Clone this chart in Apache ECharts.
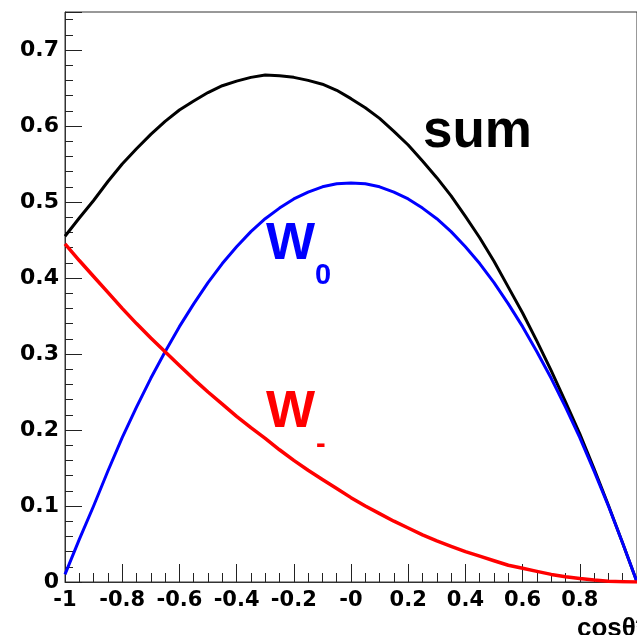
<!DOCTYPE html>
<html>
<head>
<meta charset="utf-8">
<script src="https://cdn.jsdelivr.net/npm/echarts@6/dist/echarts.min.js"></script>
<style>
  html, body { margin: 0; padding: 0; background: #fff; }
  #chart { width: 637px; height: 635px; }
</style>
</head>
<body>
<div id="chart"></div>
<script>
// cos(theta) sample points and the three curves
const cosTheta = [-1, -0.95, -0.9, -0.85, -0.8, -0.75, -0.7, -0.65, -0.6, -0.55, -0.5,
  -0.45, -0.4, -0.35, -0.3, -0.25, -0.2, -0.15, -0.1, -0.05, 0,
  0.05, 0.1, 0.15, 0.2, 0.25, 0.3, 0.35, 0.4, 0.45, 0.5,
  0.55, 0.6, 0.65, 0.7, 0.75, 0.8, 0.85, 0.9, 0.95, 1]
const wMinus = [0.445, 0.423, 0.402, 0.381, 0.360, 0.340, 0.321, 0.303, 0.285, 0.267, 0.250,
  0.234, 0.218, 0.203, 0.189, 0.174, 0.160, 0.147, 0.135, 0.123, 0.111,
  0.100, 0.090, 0.080, 0.071, 0.062, 0.054, 0.047, 0.040, 0.034, 0.028,
  0.022, 0.018, 0.014, 0.010, 0.007, 0.0045, 0.0025, 0.001, 0.0003, 0]
const wZero = [0.010, 0.056, 0.100, 0.146, 0.190, 0.230, 0.268, 0.303, 0.336, 0.366, 0.394,
  0.419, 0.441, 0.461, 0.478, 0.492, 0.504, 0.513, 0.520, 0.524, 0.525,
  0.524, 0.520, 0.513, 0.504, 0.492, 0.478, 0.461, 0.441, 0.419, 0.394,
  0.366, 0.336, 0.303, 0.268, 0.230, 0.190, 0.146, 0.100, 0.051, 0]
const wSum = [0.455, 0.479, 0.502, 0.527, 0.550, 0.570, 0.589, 0.606, 0.621, 0.633, 0.644,
  0.653, 0.659, 0.664, 0.667, 0.666, 0.664, 0.660, 0.655, 0.647, 0.636,
  0.624, 0.610, 0.593, 0.575, 0.554, 0.532, 0.508, 0.481, 0.453, 0.422,
  0.388, 0.354, 0.317, 0.278, 0.237, 0.195, 0.149, 0.101, 0.051, 0]

const xTicks = { min: -1, max: 1, interval: 0.2 }
const yTicks = { min: 0, max: 0.75, interval: 0.1 }

const labelFont = "DejaVu Sans"
const textFont = "Liberation Sans"

const pairs = ys => cosTheta.map((x, i) => [x, ys[i]])

const curve = (name, ys, color, width) => ({
  name: name,
  type: "line",
  data: pairs(ys),
  smooth: false,
  showSymbol: false,
  symbol: "none",
  clip: true,
  lineStyle: { color: color, width: width, join: "round" },
  animation: false
})

const chart = echarts.init(document.getElementById("chart"), null, { renderer: "canvas" })

chart.setOption({
  animation: false,
  backgroundColor: "#fff",
  grid: {
    left: 65,
    top: 12,
    right: -7,
    bottom: 53,
    show: true,
    borderColor: "#333",
    borderWidth: 1,
    backgroundColor: "transparent"
  },
  xAxis: {
    type: "value",
    min: xTicks.min,
    max: xTicks.max,
    interval: xTicks.interval,
    splitLine: { show: false },
    axisLine: { show: true, onZero: false, lineStyle: { color: "#333", width: 1 } },
    axisTick: { show: true, inside: true, length: 18, lineStyle: { color: "#222", width: 1 } },
    minorTick: { show: true, splitNumber: 4, length: 9, lineStyle: { color: "#222", width: 1 } },
    axisLabel: {
      margin: 8,
      showMaxLabel: false,
      color: "#000",
      fontFamily: labelFont,
      fontWeight: "bold",
      fontSize: 21,
      formatter: v => (Math.abs(v) < 1e-9 ? "-0" : String(+v.toFixed(1)))
    }
  },
  yAxis: {
    type: "value",
    min: yTicks.min,
    max: yTicks.max,
    interval: yTicks.interval,
    splitLine: { show: false },
    axisLine: { show: true, onZero: false, lineStyle: { color: "#333", width: 1 } },
    axisTick: { show: true, inside: true, length: 17, lineStyle: { color: "#222", width: 1 } },
    minorTick: { show: true, splitNumber: 5, length: 8, lineStyle: { color: "#222", width: 1 } },
    axisLabel: {
      margin: 6,
      showMaxLabel: false,
      color: "#000",
      fontFamily: labelFont,
      fontWeight: "bold",
      fontSize: 22,
      formatter: v => String(+v.toFixed(1))
    }
  },
  series: [
    curve("sum", wSum, "#000", 3),
    curve("W0", wZero, "#0000ff", 3),
    curve("W-", wMinus, "#ff0000", 3.5)
  ],
  graphic: [
    {
      type: "text",
      left: 423,
      top: 106,
      style: { text: "sum", fill: "#000", font: "bold 53px " + textFont }
    },
    {
      type: "text",
      left: 266,
      top: 219,
      style: { text: "W", fill: "#0000ff", font: "bold 52px " + textFont }
    },
    {
      type: "text",
      left: 315,
      top: 261,
      style: { text: "0", fill: "#0000ff", font: "bold 29px " + textFont }
    },
    {
      type: "text",
      left: 266,
      top: 387,
      style: { text: "W", fill: "#ff0000", font: "bold 52px " + textFont }
    },
    {
      type: "text",
      left: 316,
      top: 430,
      style: { text: "-", fill: "#ff0000", font: "bold 29px " + textFont }
    },
    {
      type: "text",
      left: 577,
      top: 616,
      style: { text: "cosθ*", fill: "#000", font: "bold 26px " + textFont }
    }
  ]
})
</script>
</body>
</html>
